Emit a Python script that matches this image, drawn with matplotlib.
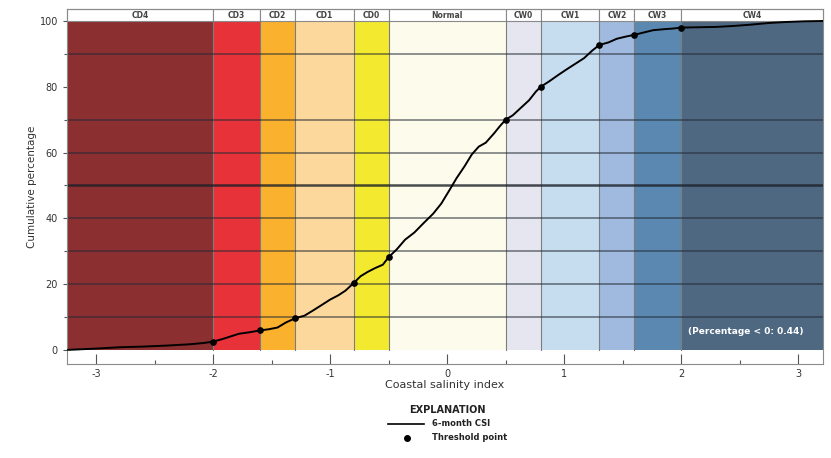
#!/usr/bin/env python3
"""Cumulative distribution of the 6-month coastal salinity index (CSI)."""

import matplotlib
matplotlib.use("Agg")
import matplotlib.pyplot as plt
from matplotlib.lines import Line2D
from matplotlib.patches import Rectangle

plt.rcParams["font.family"] = ["Liberation Sans Narrow", "DejaVu Sans"]
plt.rcParams["axes.unicode_minus"] = False

# class names and the CSI thresholds separating them
classes = ["CD4", "CD3", "CD2", "CD1", "CD0", "Normal", "CW0", "CW1", "CW2", "CW3", "CW4"]
thresholds = [-2.0, -1.6, -1.3, -0.8, -0.5, 0.5, 0.8, 1.3, 1.6, 2.0]
class_colors = ["#8c2f31", "#e8323a", "#f9b12e", "#fcd89c", "#f3e92e", "#fdfbeb",
                "#e5e6ef", "#c6dcef", "#9fbade", "#5a88b0", "#4f6882"]

# 6-month CSI cumulative curve
csi = [-3.24, -3.0, -2.8, -2.6, -2.4, -2.2, -2.08, -2.0, -1.92, -1.85, -1.78, -1.70,
       -1.60, -1.52, -1.45, -1.38, -1.30, -1.22, -1.15, -1.07, -1.0, -0.93, -0.87,
       -0.80, -0.74, -0.68, -0.62, -0.55, -0.50, -0.43, -0.36, -0.28, -0.20, -0.12,
       -0.05, 0.02, 0.08, 0.15, 0.21, 0.27, 0.33, 0.40, 0.45, 0.50, 0.56, 0.63, 0.70,
       0.76, 0.80, 0.87, 0.95, 1.03, 1.10, 1.17, 1.24, 1.30, 1.38, 1.45, 1.52, 1.60,
       1.68, 1.76, 1.85, 1.93, 2.0, 2.15, 2.30, 2.45, 2.60, 2.75, 2.90, 3.05, 3.21]
cum_pct = [0.0, 0.4, 0.8, 1.0, 1.3, 1.7, 2.1, 2.5, 3.3, 4.1, 4.9, 5.3,
           5.9, 6.3, 6.8, 8.3, 9.6, 10.4, 11.9, 13.7, 15.3, 16.6, 18.0,
           20.3, 22.4, 23.7, 24.8, 25.9, 28.2, 30.6, 33.5, 35.7, 38.6, 41.4,
           44.5, 48.6, 52.2, 55.9, 59.4, 61.8, 63.0, 65.8, 68.0, 70.0, 71.3, 73.6, 75.9,
           78.6, 80.0, 81.6, 83.6, 85.5, 87.1, 88.7, 91.0, 92.7, 93.5, 94.6, 95.2, 95.8,
           96.5, 97.2, 97.5, 97.7, 98.0, 98.1, 98.2, 98.5, 98.9, 99.4, 99.7, 99.9, 100.0]

# threshold points
thr_pct = [2.5, 5.9, 9.6, 20.3, 28.2, 70.0, 80.0, 92.7, 95.8, 98.0]

# reference lines
ref_levels = [10, 20, 30, 40, 60, 70, 90]
median_level = 50

XMIN, XMAX = -3.25, 3.21
YMIN, YMAX = -4.3, 103.6

fig = plt.figure(figsize=(8.31, 4.58), dpi=100)
ax = fig.add_axes([0.0806, 0.2052, 0.990 - 0.0806, 0.980 - 0.2052])
ax.set_xlim(XMIN, XMAX)
ax.set_ylim(YMIN, YMAX)

edges = [XMIN] + thresholds + [XMAX]
for i, (name, color) in enumerate(zip(classes, class_colors)):
    x0, x1 = edges[i], edges[i + 1]
    ax.add_patch(Rectangle((x0, 0), x1 - x0, 100, facecolor=color, edgecolor="none", zorder=1))
    ax.add_patch(Rectangle((x0, 100), x1 - x0, YMAX - 100, facecolor="white",
                           edgecolor="#8a8a8a", lw=0.8, zorder=2, clip_on=False))
    ax.text((x0 + x1) / 2, (100 + YMAX) / 2, name, ha="center", va="center",
            fontsize=5.5, fontweight="bold", color="#444444", zorder=3)

for t in thresholds:
    ax.plot([t, t], [0, 100], color="#7d7d7d", lw=0.8, zorder=2)

for lvl in ref_levels:
    ax.axhline(lvl, color="#222a33", alpha=0.6, lw=1.2, zorder=2)
ax.axhline(median_level, color="#1b2027", alpha=0.8, lw=1.8, zorder=2)

ax.plot(csi, cum_pct, color="black", lw=1.4, zorder=4)
ax.plot(thresholds, thr_pct, "o", color="black", ms=3.8, zorder=5)

ax.text(2.55, 5.5, "(Percentage < 0: 0.44)", color="white", fontsize=6.5,
        fontweight="bold", ha="center", va="center", zorder=5)

ax.set_xticks([-3, -2, -1, 0, 1, 2, 3])
ax.set_xticks([-2.5, -1.5, -0.5, 0.5, 1.5, 2.5], minor=True)
ax.set_yticks([0, 20, 40, 60, 80, 100])
ax.set_yticks([10, 30, 50, 70, 90], minor=True)
ax.tick_params(axis="x", which="major", direction="in", length=7, width=0.8,
               colors="#555555", labelsize=7, labelcolor="#333333")
ax.tick_params(axis="x", which="minor", direction="in", length=3, width=0.8, colors="#555555")
ax.tick_params(axis="y", which="major", direction="out", length=3, width=0.8,
               colors="#555555", labelsize=7, labelcolor="#333333")
ax.tick_params(axis="y", which="minor", direction="out", length=2, width=0.8, colors="#555555")
for s in ax.spines.values():
    s.set_color("#8a8a8a")
    s.set_linewidth(0.8)

ax.set_xlabel("Coastal salinity index", fontsize=8, color="#333333", labelpad=1)
ax.set_ylabel("Cumulative percentage", fontsize=7.5, color="#333333", labelpad=2)

# explanation block
fig.text(447 / 831, 1 - 410 / 458, "EXPLANATION", ha="center", va="center",
         fontsize=7, fontweight="bold", color="#222222")
fig.add_artist(Line2D([388 / 831, 424 / 831], [1 - 424 / 458] * 2, color="black",
                      lw=1.2, transform=fig.transFigure))
fig.text(432 / 831, 1 - 424 / 458, "6-month CSI", ha="left", va="center",
         fontsize=6, fontweight="bold", color="#222222")
fig.add_artist(Line2D([407 / 831], [1 - 438 / 458], marker="o", ms=4, color="black",
                      transform=fig.transFigure))
fig.text(432 / 831, 1 - 438 / 458, "Threshold point", ha="left", va="center",
         fontsize=6, fontweight="bold", color="#222222")

fig.savefig("out.png", dpi=100)
